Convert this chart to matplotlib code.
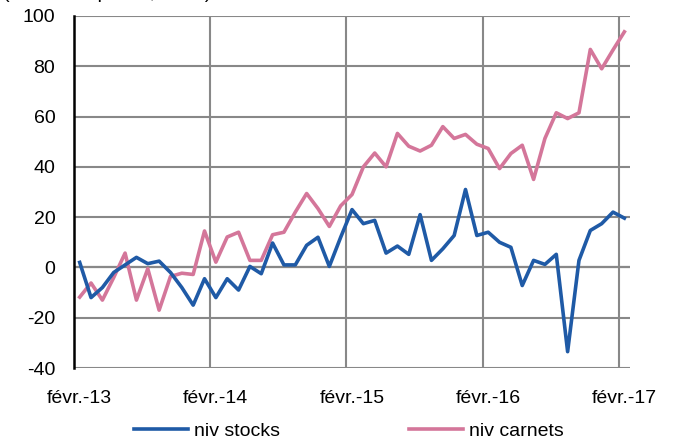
import numpy as np
import matplotlib.pyplot as plt

plt.rcParams['font.family'] = ['Liberation Sans', 'DejaVu Sans']
plt.rcParams['axes.unicode_minus'] = False

# monthly data, févr. 2013 -> févr. 2017
niv_stocks = [2, -12, -8, -2, 1, 4, 1.5, 2.5, -2, -8, -15, -4.5, -12,
              -4.5, -9, 0.4, -2.5, 9.7, 1, 1, 8.8, 12, 0.4, 12,
              23, 17.4, 18.7, 5.7, 8.5, 5.2, 21, 2.8, 7.4, 12.7, 31, 12.7,
              14, 10, 8, -7.2, 2.8, 1.2, 5.2, -33.5, 2.8, 14.7, 17.4, 22, 19.6]
niv_carnets = [-11.8, -6.2, -13, -4, 5.7, -13, -0.5, -17, -3.6, -2.3, -2.8, 14.5, 2.1,
               12.1, 14, 2.8, 2.8, 13, 14, 22, 29.4, 23.4, 16.3, 24.5,
               29, 40, 45.5, 40, 53.3, 48.2, 46.3, 48.6, 56, 51.3, 52.9, 49,
               47.3, 39.3, 45.3, 48.6, 35, 51.3, 61.5, 59.2, 61.5, 86.7, 79, 86.5, 93.7]
tick_labels = ['févr.-13', 'févr.-14', 'févr.-15', 'févr.-16', 'févr.-17']

x = np.arange(len(niv_stocks))

fig = plt.figure(figsize=(6.76, 4.43), dpi=100)
ax = fig.add_axes([0.1095, 0.1693, 0.8225, 0.7946])

ax.set_xlim(-0.5, len(x) - 0.5)
ax.set_ylim(-40, 100)
ax.set_yticks(range(-40, 101, 20))
ax.set_xticks(x[::12])
ax.set_xticklabels(tick_labels)
ax.set_xticks(x[11::12] + 0.5, minor=True)

ax.grid(axis='y', color='#888888', lw=1.5, zorder=0)
ax.grid(axis='x', which='minor', color='#888888', lw=1.5, zorder=0)
ax.axhline(0, color='black', lw=1.5, zorder=1)

l1, = ax.plot(x, niv_stocks, color='#1f5aa6', lw=2.6, label='niv stocks', zorder=3)
l2, = ax.plot(x, niv_carnets, color='#d4769a', lw=2.6, label='niv carnets', zorder=2)

for s in ['top', 'right', 'bottom']:
    ax.spines[s].set_visible(False)
ax.spines['left'].set_color('black')
ax.spines['left'].set_linewidth(1.8)
ax.tick_params(axis='both', which='both', length=0, labelsize=14)
ax.tick_params(axis='y', pad=13.5)
ax.tick_params(axis='x', pad=16)

fig.legend(handles=[l1, l2], loc='center', bbox_to_anchor=(0.516, 0.026), ncol=2,
           frameon=False, fontsize=14, handlelength=2.8, handletextpad=0.3,
           columnspacing=6.6)

# title partially cut off at top of the image, as in the source
fig.text(0.005, 1.015, "(soldes d'opinion, en %)", fontsize=14, va='center', ha='left')

fig.savefig('out.png', dpi=100)
